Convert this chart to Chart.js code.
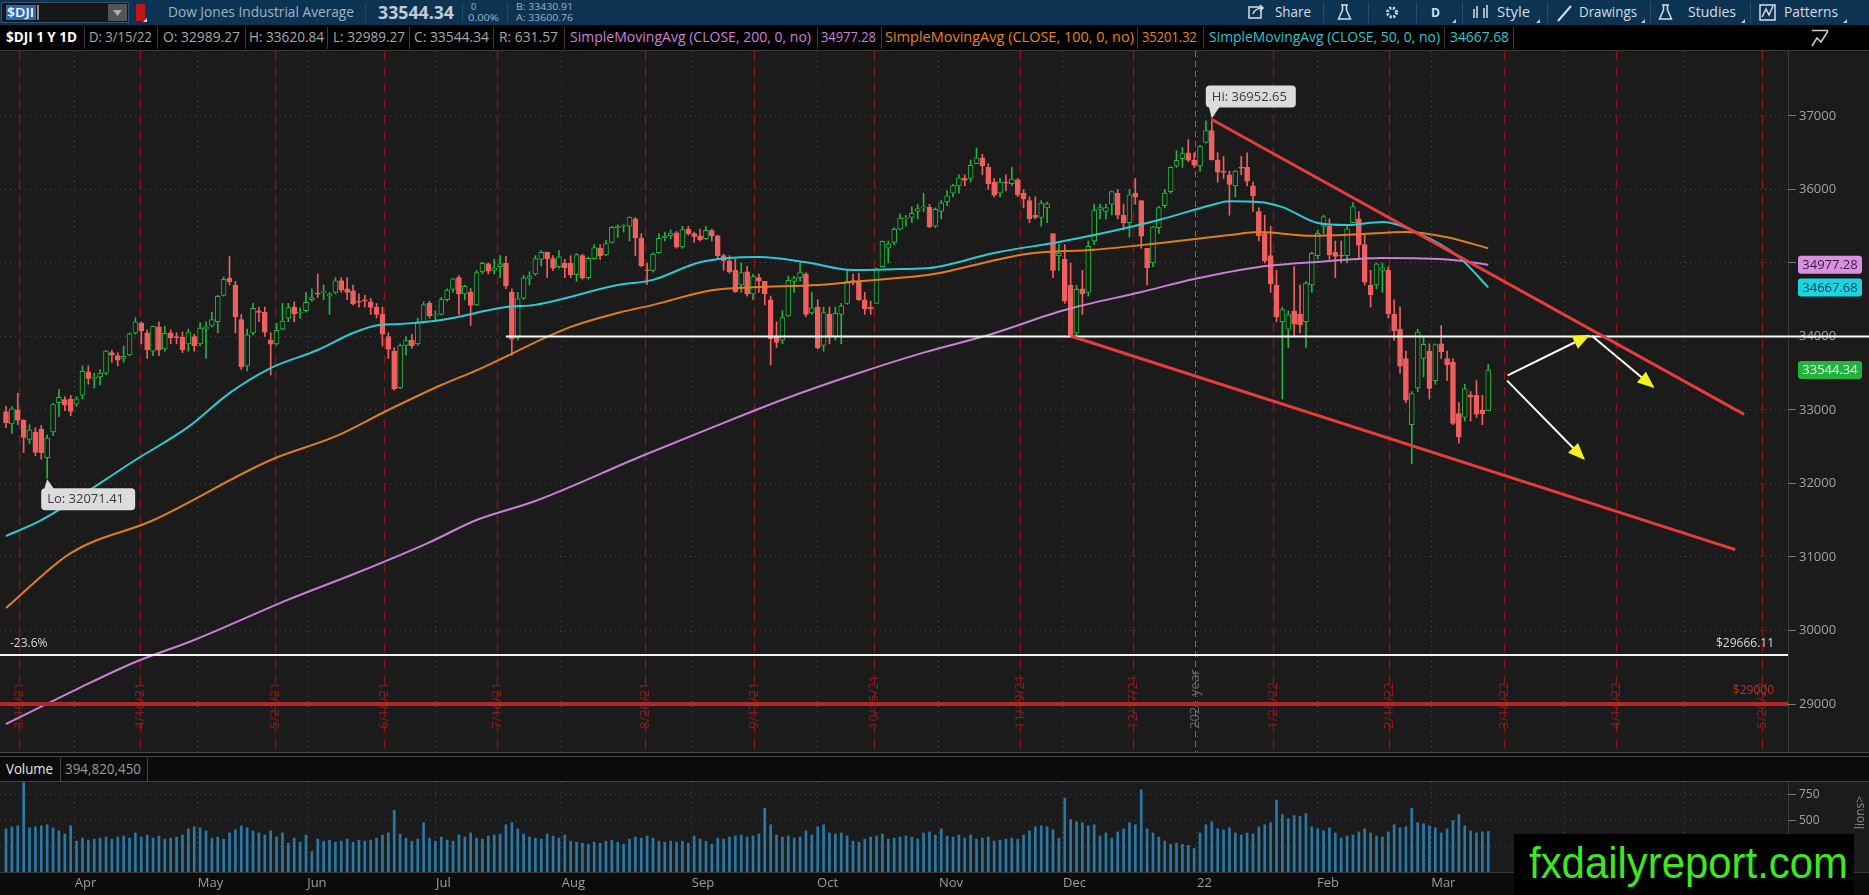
<!DOCTYPE html>
<html>
<head>
<meta charset="utf-8">
<script src="https://cdn.jsdelivr.net/npm/chart.js@4.4.1/dist/chart.umd.min.js"></script>
<style>
  html, body { margin: 0; padding: 0; background: #000; width: 1869px; height: 895px; overflow: hidden; }
  svg text { font-family: "Open Sans", "DejaVu Sans", sans-serif; }
  .abs { position: absolute; left: 0; }
  #pw { top: 51px; width: 1869px; height: 701px; background: #1b1b1b; }
  #vw { top: 782px; width: 1869px; height: 113px; background: #0b0b0b; }
</style>
</head>
<body>
<svg class="abs" style="top:0" width="1869" height="51">
  <rect x="0" y="0" width="1869" height="25" fill="#0c3452"/>
  <rect x="0" y="25" width="1869" height="26" fill="#000"/>
  <rect x="1.5" y="2.5" width="127" height="20" fill="#161616" stroke="#33536b"/>
  <rect x="6" y="5" width="30" height="15" fill="#2c67b0"/>
  <text x="7" y="17" font-size="13" font-weight="600" fill="#fff" textLength="27" lengthAdjust="spacingAndGlyphs">$DJI</text>
  <line x1="38" y1="5" x2="38" y2="20" stroke="#fff"/>
  <rect x="108" y="4" width="19" height="17" fill="#555"/>
  <polygon points="113,10 122,10 117.5,16" fill="#aaa"/>
  <rect x="136" y="4" width="9" height="17" fill="#c11515"/>
  <polygon points="143,22 147,22 147,18" fill="#ddd"/>
  <text x="168" y="17" font-size="14" fill="#9fb2c2" textLength="186" lengthAdjust="spacingAndGlyphs">Dow Jones Industrial Average</text>
  <line x1="365.5" y1="3" x2="365.5" y2="22" stroke="#1f4b6b"/>
  <text x="378" y="19" font-size="18" font-weight="700" fill="#c3ccd4" textLength="76" lengthAdjust="spacingAndGlyphs">33544.34</text>
  <line x1="462.5" y1="3" x2="462.5" y2="22" stroke="#1f4b6b"/>
  <text x="471" y="10" font-size="9" fill="#9fb2c2">0</text>
  <text x="468" y="21" font-size="9" fill="#9fb2c2" textLength="31" lengthAdjust="spacingAndGlyphs">0.00%</text>
  <line x1="507.5" y1="3" x2="507.5" y2="22" stroke="#1f4b6b"/>
  <text x="516" y="10" font-size="9" fill="#9fb2c2" textLength="57" lengthAdjust="spacingAndGlyphs">B: 33430.91</text>
  <text x="516" y="21" font-size="9" fill="#9fb2c2" textLength="57" lengthAdjust="spacingAndGlyphs">A: 33600.76</text>

  <g stroke="#d5dde4" fill="none" stroke-width="1.5">
    <rect x="1249" y="7" width="12" height="11"/>
    <path d="M1253 14 q2-6 10-6 M1260 5 l3 3 -3 3"/>
    <path d="M1341 5 h7 M1342.5 5 v5 l-4 9 h12 l-4 -9 v-5"/>
    <circle cx="1392" cy="12.5" r="4.5" stroke-width="3" stroke-dasharray="2 1.6"/>
    <path d="M1474 9 v9 M1477 6 v12 M1484 8 v10 M1487 5 v13"/>
    <path d="M1558 21 l13 -15" stroke-width="2"/>
    <path d="M1662 5 h7 M1663.5 5 v5 l-4 9 h12 l-4 -9 v-5"/>
    <rect x="1760" y="5" width="15" height="15"/>
    <path d="M1762 17 l4-8 3 6 4-9"/>
  </g>
  <circle cx="1392" cy="12.5" r="2" fill="#0c3452"/>
  <g fill="#d5dde4" font-size="14">
    <text x="1275" y="17" textLength="36" lengthAdjust="spacingAndGlyphs">Share</text>
    <text x="1431" y="17" font-size="13" font-weight="700" textLength="9" lengthAdjust="spacingAndGlyphs">D</text>
    <text x="1497" y="17" textLength="33" lengthAdjust="spacingAndGlyphs">Style</text>
    <text x="1579" y="17" textLength="58" lengthAdjust="spacingAndGlyphs">Drawings</text>
    <text x="1688" y="17" textLength="48" lengthAdjust="spacingAndGlyphs">Studies</text>
    <text x="1784" y="17" textLength="54" lengthAdjust="spacingAndGlyphs">Patterns</text>
  </g>
  <g fill="#bfc8d0">
    <polygon points="1452,23 1456,23 1456,19"/>
    <polygon points="1536,23 1540,23 1540,19"/>
    <polygon points="1641,23 1645,23 1645,19"/>
    <polygon points="1741,23 1745,23 1745,19"/>
    <polygon points="1843,23 1847,23 1847,19"/>
  </g>
  <g stroke="#234e6e">
    <line x1="1323.5" y1="2" x2="1323.5" y2="23"/>
    <line x1="1368.5" y1="2" x2="1368.5" y2="23"/>
    <line x1="1416.5" y1="2" x2="1416.5" y2="23"/>
    <line x1="1462.5" y1="2" x2="1462.5" y2="23"/>
    <line x1="1547.5" y1="2" x2="1547.5" y2="23"/>
    <line x1="1650.5" y1="2" x2="1650.5" y2="23"/>
    <line x1="1750.5" y1="2" x2="1750.5" y2="23"/>
  </g>

  <g stroke="#3c3c3c">
    <line x1="84.5" y1="27" x2="84.5" y2="49"/>
    <line x1="157.5" y1="27" x2="157.5" y2="49"/>
    <line x1="245.5" y1="27" x2="245.5" y2="49"/>
    <line x1="327.5" y1="27" x2="327.5" y2="49"/>
    <line x1="409.5" y1="27" x2="409.5" y2="49"/>
    <line x1="493.5" y1="27" x2="493.5" y2="49"/>
    <line x1="564.5" y1="27" x2="564.5" y2="49"/>
    <line x1="817.5" y1="27" x2="817.5" y2="49"/>
    <line x1="881.5" y1="27" x2="881.5" y2="49"/>
    <line x1="1137.5" y1="27" x2="1137.5" y2="49"/>
    <line x1="1203.5" y1="27" x2="1203.5" y2="49"/>
    <line x1="1444.5" y1="27" x2="1444.5" y2="49"/>
    <line x1="1513.5" y1="27" x2="1513.5" y2="49"/>
  </g>
  <g font-size="14">
    <text x="6" y="42" fill="#fff" font-weight="700" textLength="71" lengthAdjust="spacingAndGlyphs">$DJI 1 Y 1D</text>
    <text x="89" y="42" fill="#a8a8a8" textLength="63" lengthAdjust="spacingAndGlyphs">D: 3/15/22</text>
    <text x="163" y="42" fill="#a8a8a8" textLength="77" lengthAdjust="spacingAndGlyphs">O: 32989.27</text>
    <text x="249" y="42" fill="#a8a8a8" textLength="75" lengthAdjust="spacingAndGlyphs">H: 33620.84</text>
    <text x="333" y="42" fill="#a8a8a8" textLength="72" lengthAdjust="spacingAndGlyphs">L: 32989.27</text>
    <text x="414" y="42" fill="#a8a8a8" textLength="75" lengthAdjust="spacingAndGlyphs">C: 33544.34</text>
    <text x="499" y="42" fill="#a8a8a8" textLength="59" lengthAdjust="spacingAndGlyphs">R: 631.57</text>
    <text x="570" y="42" fill="#d07fd8" textLength="241" lengthAdjust="spacingAndGlyphs">SimpleMovingAvg (CLOSE, 200, 0, no)</text>
    <text x="821" y="42" fill="#d07fd8" textLength="55" lengthAdjust="spacingAndGlyphs">34977.28</text>
    <text x="885" y="42" fill="#e8841f" textLength="249" lengthAdjust="spacingAndGlyphs">SimpleMovingAvg (CLOSE, 100, 0, no)</text>
    <text x="1142" y="42" fill="#e8841f" textLength="55" lengthAdjust="spacingAndGlyphs">35201.32</text>
    <text x="1209" y="42" fill="#2cc7cf" textLength="231" lengthAdjust="spacingAndGlyphs">SimpleMovingAvg (CLOSE, 50, 0, no)</text>
    <text x="1450" y="42" fill="#2cc7cf" textLength="59" lengthAdjust="spacingAndGlyphs">34667.68</text>
  </g>
  <path d="M1812 30.5 h16 M1812 46 l5-8 4 4 7-11" stroke="#cfcfcf" fill="none" stroke-width="1.5"/>
  <line x1="0" y1="50.5" x2="1869" y2="50.5" stroke="#3a3a3a"/>
</svg>

<div id="pw" class="abs"><canvas id="price"></canvas></div>

<svg class="abs" style="top:752px" width="1869" height="30">
  <rect x="0" y="0" width="1869" height="30" fill="#0b0b0b"/>
  <line x1="0" y1="0.5" x2="1869" y2="0.5" stroke="#4a4a4a"/>
  <line x1="0" y1="4.5" x2="1869" y2="4.5" stroke="#4a4a4a"/>
  <line x1="60.5" y1="6" x2="60.5" y2="29" stroke="#444"/>
  <line x1="147.5" y1="6" x2="147.5" y2="29" stroke="#444"/>
  <line x1="0" y1="29.5" x2="1869" y2="29.5" stroke="#444"/>
  <text x="6" y="22" font-size="14" fill="#e6e6e6" textLength="47" lengthAdjust="spacingAndGlyphs">Volume</text>
  <text x="65" y="22" font-size="14" fill="#9a9a9a" textLength="76" lengthAdjust="spacingAndGlyphs">394,820,450</text>
</svg>

<div id="vw" class="abs"><canvas id="vol"></canvas></div>

<svg class="abs" style="left:1514px;top:834px" width="340" height="61">
  <rect x="0" y="0" width="340" height="61" fill="#000"/>
  <text x="15" y="44" font-size="44" fill="#3ee81e" textLength="319" lengthAdjust="spacingAndGlyphs"
        style="font-family:'Liberation Sans Narrow','Liberation Sans','DejaVu Sans',sans-serif">fxdailyreport.com</text>
</svg>

<script>
// daily candles, 3/16/21 .. 3/15/22 (one entry per session, grouped by month)
const opens = [
  32980, 32810, 33000, 32858, 32600, 32700, 32740, 32350, 32700, 33100, 33140, 33150,
  33080, 33200, 33520, 33430, 33450, 33500, 33780, 33740, 33700, 33750, 34050, 34180, 34050, 33800, 34130, 33830, 34050, 33990, 33990, 33900, 34000,
  33900, 34100, 34150, 34200, 34560, 34790, 34700, 34230, 33600, 34050, 34350, 34330, 33950, 33900, 34100, 34250, 34400, 34320, 34350, 34500,
  34580, 34600, 34550, 34600, 34760, 34650, 34620, 34470, 34500, 34470, 34400, 34300, 34000, 33800, 33300, 33880, 33950, 33900, 34200, 34450, 34280, 34300,
  34500, 34640, 34800, 34580, 34600, 34430, 34880, 34990, 34900, 34950, 35000, 34600, 33980, 34520, 34790, 34850, 35050, 35150, 35060, 34950, 35000,
  35000, 34840, 35100, 34800, 35060, 35200, 35110, 35280, 35480, 35500, 35500, 35600, 35340, 34900, 34900, 35140, 35340, 35370, 35410, 35220, 35460, 35400,
  35370, 35330, 35440, 35370, 35100, 35030, 34900, 34700, 34880, 34580, 34800, 34750, 34500, 34000, 33950, 34280, 34750, 34800, 34850, 34320, 34400,
  33880, 34300, 34000, 34300, 34450, 34750, 34740, 34500, 34400, 34450, 34950, 35200, 35280, 35460, 35600, 35620, 35700, 35750, 35760, 35500, 35700,
  35830, 35950, 36050, 36150, 36150, 36350, 36430, 36300, 36100, 35950, 36100, 36080, 36130, 35950, 35850, 35650, 35620, 35750, 35400, 35100, 35050,
  34700, 34050, 34650, 34600, 35300, 35730, 35700, 35800, 35950, 35650, 35550, 35950, 35850, 35200, 35000, 35480, 35780, 35970, 36320, 36420, 36500, 36400,
  36320, 36640, 36800, 36400, 36250, 36200, 36050, 36300, 36300, 36050, 35700, 35400, 35100, 34700, 34200, 34100, 34350, 34300, 34200, 34700,
  35100, 35500, 35500, 35150, 35100, 35100, 35550, 35600, 35250, 34700, 34700, 34900, 34900, 34300, 34100, 33700, 32800, 33300, 33700,
  33800, 33400, 33900, 33700, 33650, 32950, 32900, 33200, 33200, 33000, 32989.27
];
const highs = [
  33050, 33047, 33227, 32870, 32800, 32760, 32790, 32660, 33093, 33280, 33180, 33200,
  33180, 33600, 33600, 33500, 33550, 33810, 33810, 33780, 33870, 34050, 34256, 34200, 34090, 34140, 34200, 34140, 34090, 34050, 34060, 34100, 34030,
  34190, 34200, 34330, 34560, 34810, 35091, 34750, 34300, 34100, 34450, 34400, 34400, 34050, 34180, 34450, 34450, 34470, 34390, 34600, 34650,
  34850, 34700, 34600, 34800, 34800, 34800, 34700, 34580, 34560, 34520, 34450, 34400, 34050, 33850, 33900, 34000, 34030, 34250, 34470, 34480, 34350, 34530,
  34650, 34790, 34830, 34700, 34650, 34900, 35010, 35000, 35050, 35100, 35090, 34650, 34600, 34830, 34880, 35100, 35170, 35150, 35100, 35170, 35050,
  35100, 35130, 35120, 35080, 35250, 35250, 35310, 35500, 35520, 35530, 35630, 35620, 35400, 35000, 35140, 35400, 35420, 35450, 35430, 35500, 35500, 35420,
  35460, 35500, 35460, 35380, 35120, 35100, 35050, 35000, 34950, 34850, 34850, 34750, 34550, 34200, 34350, 34820, 34820, 35000, 34870, 34600, 34500,
  34400, 34400, 34400, 34450, 34900, 34850, 34860, 34600, 34480, 34930, 35300, 35300, 35480, 35670, 35650, 35765, 35800, 35950, 35800, 35750, 35850,
  35980, 36070, 36200, 36200, 36400, 36565, 36480, 36350, 36150, 36150, 36200, 36300, 36150, 36000, 35900, 35900, 35850, 35830, 35400, 35250, 35250,
  35000, 34700, 34900, 35300, 35800, 35800, 35800, 35980, 36000, 35800, 36000, 36150, 35850, 35200, 35500, 35770, 36000, 36310, 36530, 36570, 36680, 36500,
  36600, 36935, 36952.65, 36500, 36450, 36250, 36260, 36450, 36500, 36100, 35750, 35650, 35500, 34900, 34400, 34350, 34950, 34700, 34750, 35150,
  35450, 35650, 35600, 35300, 35300, 35500, 35825, 35700, 35400, 34900, 35000, 35000, 34950, 34500, 34400, 33800, 33250, 34100, 34000,
  33900, 33900, 34150, 33800, 33700, 33100, 33350, 33250, 33400, 33200, 33620.84
];
const lows = [
  32760, 32680, 32800, 32420, 32540, 32380, 32330, 32071.41, 32650, 32910, 32990, 32920,
  33050, 33150, 33350, 33300, 33340, 33480, 33650, 33600, 33650, 33740, 34030, 33900, 33700, 33740, 33740, 33800, 33900, 33900, 33780, 33800, 33800,
  33870, 33700, 34130, 34050, 34550, 34700, 34050, 33550, 33530, 34020, 34200, 34000, 33475, 33880, 34090, 34200, 34200, 34250, 34330, 34480,
  34530, 34500, 34300, 34580, 34600, 34500, 34430, 34400, 34400, 34300, 34250, 33870, 33700, 33270, 33290, 33750, 33840, 33880, 34180, 34250, 34200, 34290,
  34480, 34600, 34300, 34500, 34150, 34420, 34850, 34850, 34850, 34800, 34650, 33741, 33950, 34500, 34700, 34830, 34960, 34800, 34900, 34930, 34800,
  34800, 34750, 34780, 34780, 35050, 35050, 35100, 35270, 35350, 35420, 35300, 35100, 34950, 34710, 34880, 35130, 35300, 35330, 35200, 35200, 35380, 35280,
  35300, 35320, 35300, 35060, 34900, 34860, 34600, 34600, 34550, 34500, 34600, 34430, 33613, 33850, 33900, 34270, 34600, 34750, 34270, 34300, 33830,
  33800, 33900, 33950, 33900, 34440, 34700, 34490, 34300, 34300, 34450, 34950, 35000, 35250, 35450, 35500, 35550, 35600, 35700, 35480, 35480, 35600,
  35780, 35900, 35950, 36050, 36100, 36350, 36200, 36000, 35900, 35900, 35980, 36050, 35900, 35750, 35550, 35600, 35500, 35550, 34800, 34900, 34450,
  34006, 34000, 34300, 34550, 35250, 35600, 35600, 35650, 35600, 35450, 35350, 35800, 35200, 34700, 34950, 35400, 35750, 35950, 36300, 36300, 36380, 36300,
  36250, 36630, 36400, 36100, 36150, 35650, 35900, 36200, 36050, 35700, 35300, 35000, 34600, 34200, 33150, 33850, 34000, 34050, 33850, 34600,
  35050, 35400, 35050, 34800, 35000, 35000, 35550, 35050, 34700, 34400, 34650, 34600, 34250, 33950, 33500, 33100, 32272, 33250, 33450,
  33150, 33350, 33700, 33400, 32800, 32550, 32850, 32850, 32900, 32800, 32989.27
];
const closes = [
  32825, 33015, 32862, 32628, 32731, 32423, 32420, 32619, 33072, 33171, 33066, 32981,
  33153, 33527, 33430, 33446, 33503, 33801, 33745, 33677, 33730, 34035, 34200, 34077, 33821, 34137, 33815, 34043, 33981, 33984, 33820, 34060, 33874,
  34113, 34133, 34230, 34548, 34777, 34742, 34269, 33587, 34021, 34382, 34327, 34060, 33896, 34084, 34208, 34394, 34312, 34323, 34465, 34529,
  34575, 34600, 34577, 34756, 34630, 34600, 34447, 34466, 34480, 34394, 34299, 34033, 33823, 33290, 33877, 33945, 33874, 34196, 34433, 34283, 34292, 34502,
  34633, 34786, 34577, 34681, 34421, 34870, 34996, 34889, 34933, 34987, 34687, 33962, 34512, 34798, 34823, 35061, 35144, 35058, 34931, 35085, 34935,
  34838, 35116, 34793, 35064, 35209, 35101, 35265, 35485, 35500, 35515, 35625, 35343, 34961, 34894, 35120, 35336, 35367, 35406, 35214, 35456, 35400, 35361,
  35313, 35444, 35369, 35100, 35031, 34879, 34608, 34870, 34578, 34814, 34751, 34584, 33970, 33919, 34258, 34765, 34798, 34870, 34300, 34390, 33844,
  34326, 34003, 34315, 34417, 34755, 34746, 34496, 34378, 34377, 34912, 35295, 35259, 35458, 35610, 35603, 35677, 35741, 35757, 35490, 35731, 35820,
  35913, 36053, 36158, 36124, 36328, 36432, 36320, 36079, 35921, 36100, 36087, 36142, 35931, 35871, 35602, 35619, 35814, 35804, 34899, 35136, 34484,
  34022, 34640, 34580, 35227, 35720, 35754, 35755, 35971, 35650, 35545, 35928, 35898, 35365, 34932, 35493, 35754, 35951, 36302, 36398, 36488, 36398, 36338,
  36585, 36800, 36407, 36236, 36232, 36069, 36252, 36290, 36114, 35912, 35369, 35029, 34715, 34265, 34365, 34298, 34168, 34160, 34725, 35132,
  35405, 35630, 35111, 35090, 35092, 35463, 35768, 35242, 34738, 34566, 34989, 34934, 34312, 34079, 33597, 33132, 33224, 34059, 33893,
  33295, 33891, 33795, 33615, 32818, 32633, 33287, 33174, 32944, 32946, 33544.34
];
// volume, millions
const volumes = [
  420, 440, 450, 870, 430, 440, 450, 460, 430, 400, 370, 450,
  300, 330, 310, 320, 330, 340, 320, 340, 350, 330, 380, 340, 360, 330, 350, 320, 330, 340, 360, 420, 440,
  430, 400, 330, 340, 320, 380, 410, 450, 430, 400, 380, 360, 400, 340, 380, 280, 330, 290, 360, 200,
  320, 300, 310, 290, 300, 320, 290, 310, 300, 310, 330, 360, 380, 600, 370, 330, 300, 320, 480, 330, 300, 340,
  310, 300, 360, 340, 380, 330, 320, 350, 360, 370, 460, 480, 420, 370, 340, 330, 320, 370, 350, 330, 360,
  300, 290, 280, 270, 290, 280, 300, 310, 290, 270, 320, 340, 330, 350, 330, 300, 290, 300, 290, 300, 280, 350,
  320, 300, 270, 330, 320, 340, 350, 360, 340, 350, 370, 620, 460, 360, 340, 350, 330, 340, 400, 360, 440,
  460, 380, 370, 380, 350, 300, 290, 320, 340, 350, 370, 320, 330, 340, 350, 340, 320, 380, 390, 360, 420,
  350, 340, 360, 330, 360, 320, 330, 340, 300, 310, 320, 330, 320, 360, 400, 440, 450, 440, 410, 330, 720,
  510, 490, 480, 450, 460, 350, 380, 330, 390, 420, 480, 460, 800, 420, 380, 340, 300, 270, 280, 270, 260, 230,
  380, 460, 490, 420, 410, 430, 380, 360, 380, 370, 440, 460, 480, 700, 560, 520, 550, 540, 570, 440,
  420, 400, 430, 380, 330, 350, 360, 390, 420, 380, 350, 340, 390, 460, 430, 440, 620, 480, 470,
  450, 430, 380, 420, 500, 560, 450, 400, 380, 390, 394.8
];

// moving averages (session index, value)
const sma200Idx = [0, 12, 22, 32, 48, 60, 72, 80, 90, 108, 120, 132, 145, 156, 167, 180, 193, 202, 213, 224, 234, 246, 252];
const sma200Val = [28728, 29200, 29571, 29871, 30420, 30796, 31200, 31503, 31762, 32370, 32760, 33140, 33503, 33780, 34020, 34361, 34605, 34782, 34946, 35020, 35068, 35041, 34977];
const sma100Idx = [0, 11, 25, 45, 56, 65, 74, 80, 96, 104, 110, 120, 127, 138, 145, 152, 157, 174, 185, 196, 208, 213, 222, 230, 238, 245, 252];
const sma100Val = [30306, 31054, 31500, 32320, 32640, 33000, 33340, 33540, 34130, 34320, 34430, 34630, 34670, 34700, 34750, 34800, 34840, 35130, 35180, 35270, 35380, 35420, 35370, 35390, 35420, 35350, 35201];
const sma50Idx = [0, 6, 22, 31, 38, 45, 53, 59, 63, 67, 74, 85, 90, 104, 110, 118, 128, 136, 144, 152, 157, 168, 179, 185, 196, 205, 208, 213, 217, 223, 228, 234, 240, 247, 252];
const sma50Val = [31286, 31500, 32320, 32770, 33230, 33570, 33816, 34048, 34150, 34170, 34224, 34400, 34430, 34700, 34770, 35010, 35080, 35010, 34905, 34918, 34932, 35136, 35286, 35380, 35585, 35790, 35840, 35830, 35760, 35544, 35517, 35558, 35408, 35082, 34668];

// axes
const priceTicks = [29000, 30000, 31000, 32000, 33000, 34000, 35000, 36000, 37000];
const volTicks = [250, 500, 750];
const monthTickIdx = [11.7, 32.6, 51.2, 73.1, 94.5, 116.6, 137.9, 158.6, 179.7, 202.5, 222.9, 242.3, 265, 285.4];
const monthTickLabels = ['Apr', 'May', 'Jun', 'Jul', 'Aug', 'Sep', 'Oct', 'Nov', 'Dec', '22', 'Feb', 'Mar', 'Apr', 'May'];
const expiryIdx = [2.2, 22.8, 45.8, 64.2, 83.4, 108.6, 127.2, 147.6, 172.4, 191.6, 215.4, 235.2, 254.6, 273.8, 298.6];
const expiryLabels = ['3/19/21', '4/16/21', '5/21/21', '6/18/21', '7/16/21', '8/20/21', '9/17/21', '10/15/21', '11/19/21', '12/17/21', '1/21/22', '2/18/22', '3/18/22', '4/14/22', '5/20/22'];
const yearIdx = 202.2;

// drawings (session index / price)
const upperTrend = { idx: [205, 295.5], price: [36952.65, 32940] };
const lowerTrend = { idx: [181, 294], price: [34006, 31100] };
const arrowUp = { idx: [255.3, 269], price: [33470, 34010] };
const arrowDown1 = { idx: [269.6, 280], price: [34010, 33317] };
const arrowDown2 = { idx: [255.2, 268.2], price: [33400, 32340] };
const fibLevel = 29666.11, supportLevel = 29000, resistLevel = 34000, resistFrom = 85;
const hiPoint = { idx: 205, price: 36952.65 }, loPoint = { idx: 7, price: 32071.41 };
const lastStudy = [[34977.28, '#d98fe2', '#3a2040'], [34667.68, '#1ad6e4', '#093a40'], [33544.34, '#22b23d', '#f0fff0']];

const xMin = -1.02, xMax = 302.96;
const BG = '#1b1b1b', RED = '#ee5f5f', GREEN = '#22b43d', GRID = '#474747';
const FONT = '"Open Sans", "DejaVu Sans", sans-serif';
Chart.defaults.font.family = FONT;

const isUp = closes.map((c, i) => c >= opens[i]);
const pts = (xs, ys) => xs.map((v, i) => ({ x: v, y: ys[i] }));
const line = (xs, ys, color, width, order, extra) => Object.assign({
  type: 'line', data: pts(xs, ys), borderColor: color, borderWidth: width,
  pointRadius: 0, fill: false, order: order
}, extra || {});

const fixAxis = (w, h) => (s) => {
  if (w !== undefined) s.width = w;
  if (h !== undefined) s.height = h;
  s.paddingTop = 0; s.paddingBottom = 0; s.paddingLeft = 0; s.paddingRight = 0;
};

const decor = {
  id: 'decor',
  beforeDraw(chart) {
    const { ctx, chartArea: a, width, height } = chart;
    ctx.save();
    ctx.fillStyle = BG; ctx.fillRect(0, 0, width, height);
    ctx.strokeStyle = '#3a3a3a';
    ctx.beginPath(); ctx.moveTo(a.right + 0.5, 0); ctx.lineTo(a.right + 0.5, height); ctx.stroke();
    ctx.restore();
  },
  beforeDatasetsDraw(chart) {
    const { ctx, chartArea: a, scales: { x } } = chart;
    ctx.save();
    ctx.beginPath(); ctx.rect(a.left, a.top, a.right - a.left, a.bottom - a.top); ctx.clip();
    ctx.font = '13px ' + FONT;
    ctx.textBaseline = 'middle';
    ctx.textAlign = 'left';
    expiryIdx.forEach((v, k) => {
      const px = Math.round(x.getPixelForValue(v)) + 0.5;
      ctx.strokeStyle = '#7e1818'; ctx.lineWidth = 1.5; ctx.setLineDash([10, 6]);
      ctx.beginPath(); ctx.moveTo(px, a.top); ctx.lineTo(px, a.bottom); ctx.stroke();
      ctx.save(); ctx.translate(px, 678); ctx.rotate(-Math.PI / 2);
      ctx.fillStyle = '#921d1d'; ctx.fillText(expiryLabels[k], 0, 0); ctx.restore();
    });
    const py = Math.round(x.getPixelForValue(yearIdx)) + 0.5;
    ctx.strokeStyle = '#6e6e6e'; ctx.lineWidth = 1; ctx.setLineDash([6, 4]);
    ctx.beginPath(); ctx.moveTo(py, a.top); ctx.lineTo(py, a.bottom); ctx.stroke();
    ctx.save(); ctx.translate(py, 678); ctx.rotate(-Math.PI / 2);
    ctx.fillStyle = '#6a6a6a'; ctx.fillText('2021 year', 0, 0); ctx.restore();
    ctx.restore();
  },
  afterDatasetsDraw(chart) {
    const { ctx, scales: { x, y } } = chart;
    ctx.save();
    // arrow heads
    chart.data.datasets.forEach((ds, i) => {
      if (!ds.arrow) return;
      const d = chart.getDatasetMeta(i).data;
      const p1 = d[0], p2 = d[d.length - 1];
      const ang = Math.atan2(p2.y - p1.y, p2.x - p1.x);
      ctx.save(); ctx.translate(p2.x, p2.y); ctx.rotate(ang);
      ctx.fillStyle = '#f3f31d';
      ctx.beginPath(); ctx.moveTo(2, 0); ctx.lineTo(-15, -7); ctx.lineTo(-15, 7); ctx.closePath(); ctx.fill();
      ctx.restore();
    });
    // level labels
    ctx.font = '12px ' + FONT; ctx.textBaseline = 'middle';
    const fy = y.getPixelForValue(fibLevel);
    ctx.fillStyle = '#d8d8d8'; ctx.textAlign = 'left'; ctx.fillText('-23.6%', 10, fy - 11);
    ctx.textAlign = 'right'; ctx.fillText('$29666.11', 1774, fy - 11);
    ctx.fillStyle = '#c42a2a'; ctx.fillText('$29000', 1774, y.getPixelForValue(supportLevel) - 13);
    // hi / lo callouts
    ctx.font = '13px ' + FONT; ctx.textAlign = 'left';
    const hx = x.getPixelForValue(hiPoint.idx), hy = y.getPixelForValue(hiPoint.price);
    let bx = hx - 6, by = hy - 34;
    ctx.fillStyle = '#dcdcdc';
    ctx.beginPath(); ctx.roundRect(bx, by, 90, 22, 4); ctx.fill();
    ctx.beginPath(); ctx.moveTo(hx - 3, by + 21); ctx.lineTo(hx + 8, by + 21); ctx.lineTo(hx, hy - 1); ctx.closePath(); ctx.fill();
    ctx.fillStyle = '#3a3a3a'; ctx.fillText('Hi: 36952.65', bx + 6, by + 11.5);
    const lx = x.getPixelForValue(loPoint.idx), ly = y.getPixelForValue(loPoint.price);
    bx = lx - 6; by = ly + 10;
    ctx.fillStyle = '#dcdcdc';
    ctx.beginPath(); ctx.roundRect(bx, by, 94, 22, 4); ctx.fill();
    ctx.beginPath(); ctx.moveTo(lx - 3, by + 1); ctx.lineTo(lx + 7, by + 1); ctx.lineTo(lx, ly + 1); ctx.closePath(); ctx.fill();
    ctx.fillStyle = '#3a3a3a'; ctx.fillText('Lo: 32071.41', bx + 6, by + 11.5);
    ctx.restore();
  },
  afterDraw(chart) {
    const { ctx, scales: { y } } = chart;
    ctx.save();
    ctx.font = '13px ' + FONT; ctx.textAlign = 'center'; ctx.textBaseline = 'middle';
    lastStudy.forEach(([v, bg, fg]) => {
      const py = y.getPixelForValue(v);
      ctx.fillStyle = bg;
      ctx.beginPath(); ctx.roundRect(1798, py - 9, 64, 18, 3); ctx.fill();
      ctx.fillStyle = fg; ctx.fillText(v.toFixed(2), 1830, py + 0.5);
    });
    ctx.restore();
  }
};

const levelLine = (v, from, to, color, width, order, extra) =>
  line([from, to], [v, v], color, width, order, extra);

new Chart(document.getElementById('price'), {
  type: 'bar',
  data: {
    datasets: [
      { data: closes.map((c, i) => ({ x: i, y: [lows[i], highs[i]] })), barThickness: 1, grouped: false,
        backgroundColor: isUp.map(u => u ? GREEN : RED), borderWidth: 0, order: 20 },
      { data: closes.map((c, i) => ({ x: i, y: [opens[i], c] })), barThickness: 5, grouped: false,
        backgroundColor: isUp.map(u => u ? BG : RED), borderColor: isUp.map(u => u ? GREEN : RED),
        borderWidth: 1, borderSkipped: false, minBarLength: 1, order: 19 },
      line(sma200Idx, sma200Val, '#c97fd4', 2, 10, { cubicInterpolationMode: 'monotone' }),
      line(sma100Idx, sma100Val, '#e07d1c', 2, 9, { cubicInterpolationMode: 'monotone' }),
      line(sma50Idx, sma50Val, '#2fc9d3', 2, 8, { cubicInterpolationMode: 'monotone' }),
      levelLine(fibLevel, xMin, xMax, '#f4f4f4', 2, 7),
      levelLine(supportLevel, xMin, xMax, '#b52626', 4, 7),
      levelLine(resistLevel, resistFrom, 320, '#ffffff', 2, 6, { clip: false }),
      line(upperTrend.idx, upperTrend.price, '#e63c3c', 3, 5),
      line(lowerTrend.idx, lowerTrend.price, '#e63c3c', 3, 5),
      line(arrowUp.idx, arrowUp.price, '#ffffff', 2, 4, { arrow: true }),
      line(arrowDown1.idx, arrowDown1.price, '#ffffff', 2, 4, { arrow: true }),
      line(arrowDown2.idx, arrowDown2.price, '#ffffff', 2, 4, { arrow: true })
    ]
  },
  options: {
    responsive: true, maintainAspectRatio: false, animation: false, devicePixelRatio: 1,
    layout: { padding: 0 },
    plugins: { legend: { display: false }, tooltip: { enabled: false } },
    scales: {
      x: {
        type: 'linear', min: xMin, max: xMax, offset: false,
        afterBuildTicks: s => { s.ticks = monthTickIdx.map(v => ({ value: v })); },
        afterFit: fixAxis(undefined, 0),
        ticks: { display: false },
        grid: { color: GRID, drawTicks: false, offset: false },
        border: { display: false, dash: [1, 4] }
      },
      y: {
        position: 'right', min: 28347, max: 37884,
        afterBuildTicks: s => { s.ticks = priceTicks.map(v => ({ value: v })); },
        afterFit: fixAxis(81),
        ticks: { color: '#a2a2a2', font: { size: 13 }, padding: 3, callback: v => String(v) },
        grid: { color: GRID, tickColor: '#777', tickLength: 8 },
        border: { display: false, dash: [1, 4] }
      }
    }
  },
  plugins: [decor]
});

const volDecor = {
  id: 'volDecor',
  beforeDraw(chart) {
    const { ctx, chartArea: a, width, height } = chart;
    ctx.save();
    ctx.fillStyle = '#0b0b0b'; ctx.fillRect(0, 0, width, height);
    ctx.fillStyle = BG; ctx.fillRect(0, 0, width, a.bottom);
    ctx.strokeStyle = '#3a3a3a';
    ctx.beginPath(); ctx.moveTo(a.right + 0.5, 0); ctx.lineTo(a.right + 0.5, a.bottom); ctx.stroke();
    ctx.beginPath(); ctx.moveTo(0, a.bottom + 0.5); ctx.lineTo(width, a.bottom + 0.5); ctx.stroke();
    ctx.restore();
  },
  afterDraw(chart) {
    const { ctx } = chart;
    ctx.save();
    ctx.beginPath(); ctx.rect(1850, 0, 19, 48); ctx.clip();
    ctx.translate(1861, 64); ctx.rotate(-Math.PI / 2);
    ctx.font = '12px ' + FONT; ctx.fillStyle = '#8a8a8a'; ctx.textBaseline = 'middle';
    ctx.fillText('Millions>', 0, 0);
    ctx.restore();
  }
};

new Chart(document.getElementById('vol'), {
  type: 'bar',
  data: {
    datasets: [{ data: volumes.map((v, i) => ({ x: i, y: v })), barThickness: 2,
      backgroundColor: '#2879a8', borderWidth: 0 }]
  },
  options: {
    responsive: true, maintainAspectRatio: false, animation: false, devicePixelRatio: 1,
    layout: { padding: 0 },
    plugins: { legend: { display: false }, tooltip: { enabled: false } },
    scales: {
      x: {
        type: 'linear', min: xMin, max: xMax, offset: false,
        afterBuildTicks: s => { s.ticks = monthTickIdx.map(v => ({ value: v })); },
        afterFit: fixAxis(undefined, 23),
        ticks: { color: '#9c9c9c', font: { size: 13 }, align: 'start', maxRotation: 0, autoSkip: false, padding: 3,
          callback: (v, i) => monthTickLabels[i] },
        grid: { color: GRID, drawTicks: false, offset: false },
        border: { display: false, dash: [1, 4] }
      },
      y: {
        position: 'right', min: 0, max: 876,
        afterBuildTicks: s => { s.ticks = volTicks.map(v => ({ value: v })); },
        afterFit: fixAxis(81),
        ticks: { color: '#a2a2a2', font: { size: 12 }, padding: 3, callback: v => String(v) },
        grid: { color: GRID, tickColor: '#777', tickLength: 8 },
        border: { display: false, dash: [1, 4] }
      }
    }
  },
  plugins: [volDecor]
});
</script>
</body>
</html>
